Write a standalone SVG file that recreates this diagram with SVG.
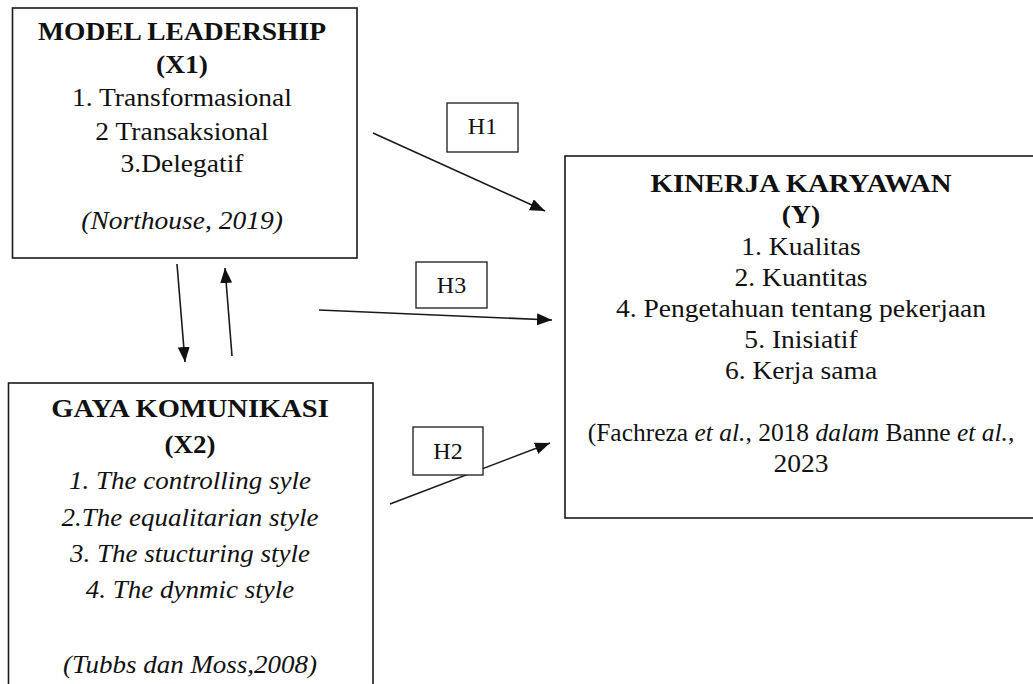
<svg xmlns="http://www.w3.org/2000/svg" width="1033" height="684" viewBox="0 0 1033 684">
<style>
.box{fill:#fff;stroke:#1a1a1a;stroke-width:1.6}
.hbox{fill:#fff;stroke:#1a1a1a;stroke-width:1.3}
text{font-family:'Liberation Serif',serif;fill:#111;text-anchor:middle}
.b{font-weight:bold}
.i{font-style:italic}
.con{stroke:#1a1a1a;stroke-width:1.6;fill:none;marker-end:url(#ah)}
</style>
<defs>
<marker id="ah" markerUnits="userSpaceOnUse" markerWidth="16" markerHeight="12" refX="15" refY="6" orient="auto">
<path d="M0,0 L15,6 L0,12 Z" fill="#111"/>
</marker>
</defs>
<rect width="1033" height="684" fill="#fff"/>

<g id="x1">
<rect class="box" x="12.5" y="8" width="344.5" height="250"/>
<g transform="translate(182,0) scale(1.1,1)" font-size="25" font-family="Liberation Serif, serif">
<text class="b" x="0" y="40">MODEL LEADERSHIP</text>
<text class="b" x="0" y="73">(X1)</text>
<text x="0" y="106.5">1. Transformasional</text>
<text x="0" y="140">2 Transaksional</text>
<text x="0" y="172">3.Delegatif</text>
<text class="i" x="0" y="229">(Northouse, 2019)</text>
</g>
</g>

<g id="y">
<rect class="box" x="565" y="156" width="480" height="362"/>
<g transform="translate(801,0) scale(1.06,1)" font-size="26" font-family="Liberation Serif, serif">
<text class="b" x="0" y="192" textLength="284" lengthAdjust="spacingAndGlyphs">KINERJA KARYAWAN</text>
<text class="b" x="0" y="223">(Y)</text>
<text x="0" y="255">1. Kualitas</text>
<text x="0" y="286">2. Kuantitas</text>
<text x="0" y="317">4. Pengetahuan tentang pekerjaan</text>
<text x="0" y="348">5. Inisiatif</text>
<text x="0" y="379">6. Kerja sama</text>
<text x="0" y="472">2023</text>
</g>
<g transform="translate(801,0) scale(0.98,1)" font-size="26" font-family="Liberation Serif, serif">
<text x="0" y="441">(Fachreza <tspan class="i">et al.</tspan>, 2018 <tspan class="i">dalam</tspan> Banne <tspan class="i">et al.</tspan>,</text>
</g>
</g>

<g id="x2">
<rect class="box" x="8.5" y="383" width="364.5" height="320"/>
<g transform="translate(190,0) scale(1.08,1)" font-size="25" font-family="Liberation Serif, serif">
<text class="b" x="0" y="417" textLength="257" lengthAdjust="spacingAndGlyphs">GAYA KOMUNIKASI</text>
<text class="b" x="0" y="453">(X2)</text>
<text class="i" x="0" y="489">1. The controlling syle</text>
<text class="i" x="0" y="526">2.The equalitarian style</text>
<text class="i" x="0" y="562">3. The stucturing style</text>
<text class="i" x="0" y="598">4. The dynmic style</text>
<text class="i" x="0" y="673">(Tubbs dan Moss,2008)</text>
</g>
</g>

<g id="connectors">
<line class="con" x1="373" y1="133" x2="545" y2="211"/>
<line class="con" x1="319" y1="310" x2="552" y2="320"/>
<line class="con" x1="390" y1="504" x2="550" y2="443"/>
<line class="con" x1="177" y1="264" x2="185" y2="362"/>
<line class="con" x1="232" y1="356" x2="225" y2="268"/>
</g>

<g id="h1">
<rect class="hbox" x="447" y="103" width="71" height="49"/>
<text x="482.5" y="134" font-size="24">H1</text>
</g>
<g id="h3">
<rect class="hbox" x="416" y="262" width="71" height="46"/>
<text x="451.5" y="293" font-size="24">H3</text>
</g>
<g id="h2">
<rect class="hbox" x="413" y="427" width="70" height="48"/>
<text x="448" y="459" font-size="24">H2</text>
</g>
</svg>
